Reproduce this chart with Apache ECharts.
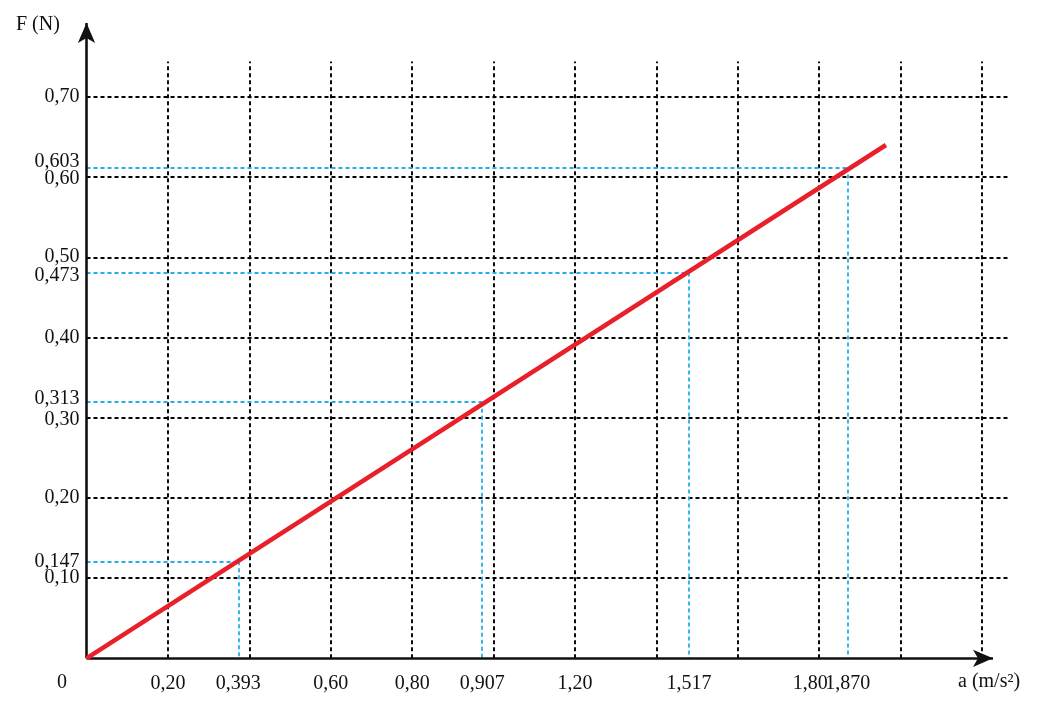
<!DOCTYPE html>
<html>
<head>
<meta charset="utf-8">
<script src="https://cdn.jsdelivr.net/npm/echarts@6/dist/echarts.min.js"></script>
<style>
html,body{margin:0;padding:0;background:#fff;}
#chart{width:1039px;height:708px;}
</style>
</head>
<body>
<div id="chart"></div>
<script>
// ---- data ----
// grid values
const xGrid = [0.2, 0.4, 0.6, 0.8, 1.0, 1.2, 1.4, 1.6, 1.8, 2.0, 2.2];
const yGrid = [0.1, 0.2, 0.3, 0.4, 0.5, 0.6, 0.7];
// measured points (as plotted) and their printed labels
const aPoints = [0.373, 0.972, 1.480, 1.870];
const fPoints = [0.121, 0.320, 0.481, 0.612];
const aPointLabels = ['0,393', '0,907', '1,517', '1,870'];
const fPointLabels = ['0,147', '0,313', '0,473', '0,603'];
// regular tick labels
const xTicks = [0.2, 0.6, 0.8, 1.2, 1.8];
const xTickLabels = ['0,20', '0,60', '0,80', '1,20', '1,80'];
const yTicks = [0.1, 0.2, 0.3, 0.4, 0.5, 0.6, 0.7];
const yTickLabels = ['0,10', '0,20', '0,30', '0,40', '0,50', '0,60', '0,70'];
// fitted line F = k·a
const fitLine = [[0, 0], [1.964, 0.640]];
// extents
const xMax = 2.27, yMax = 0.792;
const xAxisEnd = 2.227, yGridTop = 0.744;

// ---- styling ----
const FONT = '"Liberation Serif", "DejaVu Serif", serif';
const BLUE = '#22aeea';
const FS = 20;
// label nudges (pixels) to keep crowded labels apart, as in the original
const xNudge = {'1,80': -9};
const yNudge = {'0,603': -6, '0,60': 2, '0,473': 3, '0,50': -1, '0,313': -3, '0,30': 2};

function lookup(vals, labels, v) {
  for (let i = 0; i < vals.length; i++) if (Math.abs(vals[i] - v) < 1e-6) return labels[i];
  return '';
}
const xLabVals = xTicks.concat(aPoints);
const xLabTexts = xTickLabels.concat(aPointLabels);
const yLabVals = yTicks.concat(fPoints);
const yLabTexts = yTickLabels.concat(fPointLabels);

// rich styles for nudged labels
const xRich = {}, yRich = {};
Object.keys(xNudge).forEach((k, i) => {
  const d = xNudge[k];
  xRich['x' + i] = {padding: d < 0 ? [0, -2 * d, 0, 0] : [0, 0, 0, 2 * d], fontFamily: FONT, fontSize: FS, color: '#111'};
});
Object.keys(yNudge).forEach((k, i) => {
  const d = yNudge[k];
  yRich['y' + i] = {padding: d < 0 ? [0, 0, -2 * d, 0] : [2 * d, 0, 0, 0], fontFamily: FONT, fontSize: FS, color: '#111'};
});
function fmtX(v) {
  const t = lookup(xLabVals, xLabTexts, v);
  const i = Object.keys(xNudge).indexOf(t);
  return i >= 0 ? '{x' + i + '|' + t + '}' : t;
}
function fmtY(v) {
  const t = lookup(yLabVals, yLabTexts, v);
  const i = Object.keys(yNudge).indexOf(t);
  return i >= 0 ? '{y' + i + '|' + t + '}' : t;
}

const gridStyle = {color: '#000', width: 1.9, type: [4, 3]};
const blueStyle = {color: BLUE, width: 1.8, type: [4, 3]};

const gridLines = [];
xGrid.forEach(v => gridLines.push([{coord: [v, 0]}, {coord: [v, yGridTop]}]));
yGrid.forEach(v => gridLines.push([{coord: [0, v]}, {coord: [xMax, v]}]));

const blueLines = [];
aPoints.forEach((a, i) => {
  const f = fPoints[i];
  blueLines.push([{coord: [0, f]}, {coord: [a, f]}]);
  blueLines.push([{coord: [a, f]}, {coord: [a, 0]}]);
});

const chart = echarts.init(document.getElementById('chart'));
chart.setOption({
  animation: false,
  backgroundColor: '#fff',
  grid: {left: 86.5, top: 23.1, width: 924, height: 635.2, containLabel: false},
  xAxis: {
    type: 'value', min: 0, max: xMax,
    axisLine: {show: false}, axisTick: {show: false}, splitLine: {show: false},
    axisLabel: {
      customValues: xLabVals,
      formatter: fmtX, rich: xRich,
      fontFamily: FONT, fontSize: FS, color: '#111', margin: 15
    }
  },
  yAxis: {
    type: 'value', min: 0, max: yMax,
    axisLine: {show: false}, axisTick: {show: false}, splitLine: {show: false},
    axisLabel: {
      customValues: yLabVals,
      formatter: fmtY, rich: yRich,
      fontFamily: FONT, fontSize: FS, color: '#111', margin: 7
    }
  },
  graphic: [
    {type: 'text', left: 16, top: 15, style: {text: 'F (N)', font: FS + 'px ' + FONT, fill: '#111'}},
    {type: 'text', left: 958, top: 672, style: {text: 'a (m/s²)', font: FS + 'px ' + FONT, fill: '#111'}},
    {type: 'text', left: 57, top: 673, style: {text: '0', font: FS + 'px ' + FONT, fill: '#111'}}
  ],
  series: [
    {
      type: 'line', data: [], silent: true,
      markLine: {silent: true, symbol: 'none', label: {show: false}, lineStyle: gridStyle, data: gridLines, animation: false}
    },
    {
      type: 'line', data: [], silent: true,
      markLine: {silent: true, symbol: 'none', label: {show: false}, lineStyle: blueStyle, data: blueLines, animation: false}
    },
    {
      type: 'line', data: [], silent: true, z: 5,
      markLine: {
        silent: true, symbol: ['none', 'arrow'], symbolSize: [13, 20], label: {show: false},
        lineStyle: {color: '#111', width: 2.6, type: 'solid'},
        data: [
          [{coord: [0, 0]}, {coord: [xAxisEnd, 0]}],
          [{coord: [0, 0]}, {coord: [0, yMax]}]
        ],
        animation: false
      }
    },
    {
      type: 'line', data: fitLine, z: 6, symbol: 'none', silent: true,
      lineStyle: {color: '#e8202a', width: 4.5}
    }
  ]
});
</script>
</body>
</html>
